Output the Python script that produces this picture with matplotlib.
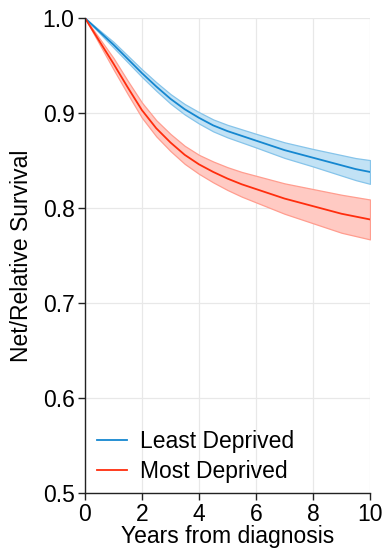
import numpy as np
import matplotlib
matplotlib.use("Agg")
import matplotlib.pyplot as plt

plt.rcParams['font.family'] = ['Liberation Sans', 'DejaVu Sans']

years = [0, 0.5, 1, 1.5, 2, 2.5, 3, 3.5, 4, 4.5, 5, 5.5, 6, 6.5, 7, 7.5, 8, 8.5, 9, 9.5, 10]

# least deprived: estimate and 95% band
least = [1.000, 0.986, 0.972, 0.957, 0.942, 0.928, 0.915, 0.904, 0.895, 0.887, 0.881,
         0.876, 0.871, 0.866, 0.861, 0.857, 0.853, 0.849, 0.845, 0.841, 0.838]
least_lo = [1.000, 0.9845, 0.969, 0.9535, 0.938, 0.9235, 0.910, 0.8985, 0.889, 0.8807, 0.8744,
            0.8691, 0.8638, 0.8583, 0.8528, 0.8483, 0.8438, 0.839, 0.8342, 0.8294, 0.8255]
least_hi = [1.000, 0.9875, 0.975, 0.9605, 0.946, 0.9325, 0.920, 0.9095, 0.901, 0.8933, 0.8876,
            0.8829, 0.8782, 0.8737, 0.8692, 0.8657, 0.8622, 0.859, 0.8558, 0.8526, 0.8505]

# most deprived
most = [1.000, 0.976, 0.952, 0.927, 0.903, 0.884, 0.869, 0.856, 0.846, 0.838, 0.831,
        0.825, 0.820, 0.815, 0.810, 0.806, 0.802, 0.798, 0.794, 0.791, 0.788]
most_lo = [1.000, 0.973, 0.946, 0.920, 0.895, 0.8755, 0.860, 0.8465, 0.836, 0.827, 0.819,
           0.812, 0.806, 0.800, 0.794, 0.789, 0.784, 0.779, 0.774, 0.7705, 0.767]
most_hi = [1.000, 0.979, 0.958, 0.934, 0.911, 0.8925, 0.878, 0.8655, 0.856, 0.849, 0.843,
           0.838, 0.834, 0.830, 0.826, 0.823, 0.820, 0.817, 0.814, 0.8115, 0.809]

xticks = [0, 2, 4, 6, 8, 10]
yticks = [0.5, 0.6, 0.7, 0.8, 0.9, 1.0]

fig = plt.figure(figsize=(3.87, 5.48), dpi=100)
ax = fig.add_axes([0.2196, 0.1004, 0.7364, 0.8666])

ax.fill_between(years, least_lo, least_hi, facecolor='#c2e2f5', edgecolor='#86c4ea', linewidth=0.9)
ax.fill_between(years, most_lo, most_hi, facecolor='#ffcac3', edgecolor='#ff9d8f', linewidth=0.9)
ax.plot(years, least, color='#1587d0', lw=1.3, label='Least Deprived')
ax.plot(years, most, color='#ff2d0d', lw=1.3, label='Most Deprived')

ax.set_xlim(0, 10)
ax.set_ylim(0.5, 1.0)
ax.set_xticks(xticks)
ax.set_yticks(yticks)
ax.set_yticklabels([f'{v:.1f}' for v in yticks])
ax.grid(True, color='#e8e8e8', lw=0.9)
ax.set_axisbelow(True)
for s in ['top', 'right']:
    ax.spines[s].set_visible(False)
for s in ['left', 'bottom']:
    ax.spines[s].set_color('#222222')
    ax.spines[s].set_linewidth(1.0)
ax.tick_params(labelsize=16.5, length=5, width=1, colors='#222222', labelcolor='black', pad=2.5)
ax.set_xlabel('Years from diagnosis', fontsize=16.5, labelpad=-1)
ax.set_ylabel('Net/Relative Survival', fontsize=16.5, labelpad=7)

ax.legend(loc='lower left', frameon=False, fontsize=16.5, handlelength=1.3,
          handletextpad=0.55, labelspacing=0.3,
          bbox_to_anchor=(-0.021, -0.017), borderaxespad=0.4)

fig.savefig('out.png', dpi=100)
